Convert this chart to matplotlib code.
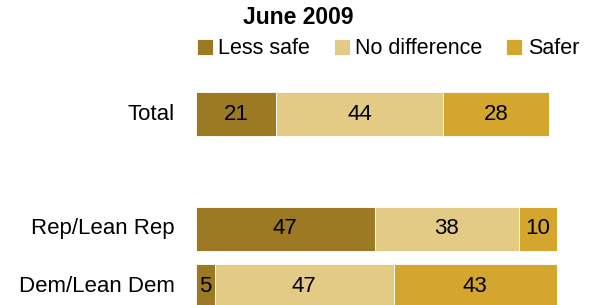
import numpy as np
import matplotlib.pyplot as plt

# Datos
groups = ['Total', 'Rep/Lean Rep', 'Dem/Lean Dem']
positions = [0, 2, 3]
less_safe = [21, 47, 5]
no_diff = [44, 38, 47]
safer = [28, 10, 43]
series_names = ['Less safe', 'No difference', 'Safer']
colors = ['#9c7a24', '#e3cb85', '#d4a62e']

plt.rcParams['font.family'] = ['Liberation Sans', 'DejaVu Sans']

fig = plt.figure(figsize=(5.89, 3.05), dpi=100)
ax = fig.add_axes([0, 0, 1, 1])

left = np.zeros(len(groups))
for vals, name, c in zip([less_safe, no_diff, safer], series_names, colors):
    ax.barh(positions, vals, left=left, height=0.77, color=c,
            label=name, edgecolor='white', linewidth=0.6)
    for p, v, l in zip(positions, vals, left):
        ax.text(l + v / 2, p, str(v), ha='center', va='center', fontsize=16)
    left = left + np.array(vals)

for p, g in zip(positions, groups):
    ax.text(-5.5, p, g, ha='right', va='center', fontsize=16)

ax.set_xlim(-196 / 3.8, (589 - 196) / 3.8)
ax.set_ylim(3.322, -1.983)
ax.axis('off')

fig.text(298 / 589, 1 - 17 / 305, 'June 2009', ha='center', va='center',
         fontsize=16.5, fontweight='bold')
ax.legend(loc='center', bbox_to_anchor=(388 / 589, 1 - 49 / 305),
          bbox_transform=fig.transFigure, ncol=3, frameon=False,
          fontsize=15.5, handlelength=0.75, handleheight=0.75,
          handletextpad=0.25, columnspacing=1.1, borderaxespad=0)

plt.savefig('out.png', dpi=100)
